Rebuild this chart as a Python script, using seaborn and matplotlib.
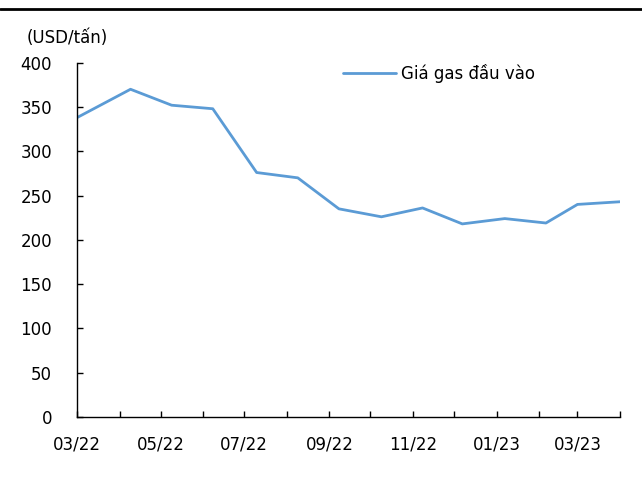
import pandas as pd
import seaborn as sns
import matplotlib.pyplot as plt
import matplotlib.dates as mdates
from matplotlib.lines import Line2D

# gas input price
dates = ['2022-03-01', '2022-04-09', '2022-05-09', '2022-06-08', '2022-07-10',
         '2022-08-09', '2022-09-08', '2022-10-09', '2022-11-08', '2022-12-07',
         '2023-01-07', '2023-02-06', '2023-03-01', '2023-04-01']
prices = [338, 370, 352, 348, 276, 270, 235, 226, 236, 218, 224, 219, 240, 243]
series_name = 'Giá gas đầu vào'
unit_label = '(USD/tấn)'
y_ticks = [0, 50, 100, 150, 200, 250, 300, 350, 400]

df = pd.DataFrame({'date': pd.to_datetime(dates), 'price': prices, 'series': series_name})

sns.set_style('white')
plt.rcParams['font.family'] = ['DejaVu Sans']
plt.rcParams['text.color'] = 'black'

fig = plt.figure(figsize=(6.42, 4.86), dpi=100)
ax = fig.add_axes([0.12, 0.142, 0.8457, 0.729])

sns.lineplot(data=df, x='date', y='price', hue='series', palette=['#5B9BD5'],
             linewidth=2.0, ax=ax)

ax.set_ylim(0, 400)
ax.set_yticks(y_ticks)
ax.set_xlim(pd.Timestamp('2022-03-01'), pd.Timestamp('2023-04-01'))
ax.xaxis.set_major_locator(mdates.MonthLocator(bymonth=[1, 3, 5, 7, 9, 11]))
ax.xaxis.set_major_formatter(mdates.DateFormatter('%m/%y'))
ax.xaxis.set_minor_locator(mdates.MonthLocator())
ax.set_xlabel('')
ax.set_ylabel('')

ax.tick_params(axis='both', which='both', direction='in', length=4.5, width=1,
               color='black', labelsize=12, labelcolor='black',
               bottom=True, left=True)
ax.tick_params(axis='x', which='both', pad=13)
ax.tick_params(axis='y', pad=18)

for side in ['top', 'right']:
    ax.spines[side].set_visible(False)
for side in ['left', 'bottom']:
    ax.spines[side].set_color('black')
    ax.spines[side].set_linewidth(1)

leg = ax.legend(loc='upper left', bbox_to_anchor=(0.462, 1.04), frameon=False,
                fontsize=12, handlelength=3.2, handletextpad=0.3)
for t in leg.get_texts():
    t.set_color('black')

fig.text(0.042, 0.922, unit_label, fontsize=12, va='center', ha='left', color='black')
fig.add_artist(Line2D([0, 1], [0.981, 0.981], color='black', linewidth=2,
                      transform=fig.transFigure))

fig.savefig('out.png', dpi=100, facecolor='white')
